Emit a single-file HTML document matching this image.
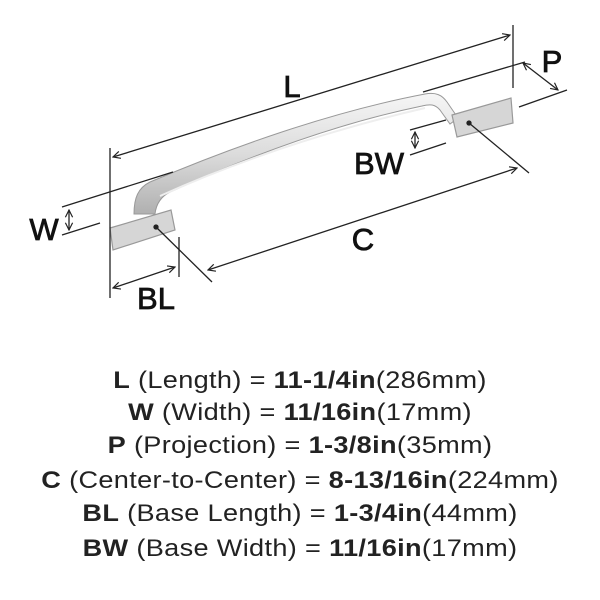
<!DOCTYPE html>
<html><head><style>
body{margin:0;background:#fff;width:600px;height:600px;overflow:hidden;font-family:"Liberation Sans",sans-serif}
.t{position:absolute;left:0;width:600px;text-align:center;font-size:24px;letter-spacing:0.3px;color:#222;white-space:nowrap;transform:scaleX(1.13);transform-origin:300px 0}
.t b{font-weight:bold}
</style></head><body>
<svg width="600" height="330" style="position:absolute;left:0;top:0" xmlns="http://www.w3.org/2000/svg">
<defs>
<marker id="a" viewBox="0 0 10 10" refX="9" refY="5" markerWidth="9" markerHeight="9" orient="auto-start-reverse" markerUnits="userSpaceOnUse">
<polyline points="1,1 9,5 1,9" fill="none" stroke="#222" stroke-width="1.3"/></marker>
<linearGradient id="g" x1="0" y1="0" x2="0" y2="1"><stop offset="0" stop-color="#f6f6f6"/><stop offset="0.5" stop-color="#dcdcdc"/><stop offset="1" stop-color="#b0b0b0"/></linearGradient>
</defs>
<g stroke="#222" stroke-width="1.3" fill="none">
<path d="M134,214 C134,198 138,188 150,182 C230,148 330,112 425,94 C436,92 442,95 447,102 L458,118 L450,124 L440,110 C435,104 430,104 422,106 C335,124 245,158 170,192 C160,197 156,205 155,214 Z" fill="url(#g)" stroke="#999" stroke-width="1"/>
<path d="M160,196 C240,160 330,130 425,108" stroke="#eee" stroke-width="2"/>
<polygon points="452,115 511,98 513,123 457,137" fill="#d6d6d6" stroke="#999" stroke-width="1.2"/>
<polygon points="110,228 171,210 175,230 113,250" fill="#d6d6d6" stroke="#999" stroke-width="1.2"/>
<circle cx="469" cy="123" r="2" fill="#222"/>
<circle cx="156" cy="227" r="2" fill="#222"/>
<line x1="469" y1="123" x2="529" y2="173"/>
<line x1="156" y1="227" x2="212" y2="282"/>
<line x1="113" y1="157" x2="510" y2="35" marker-start="url(#a)" marker-end="url(#a)"/>
<line x1="513" y1="25" x2="513" y2="88"/>
<line x1="110" y1="148" x2="110" y2="298"/>
<line x1="423" y1="92" x2="525" y2="62"/>
<line x1="519" y1="107" x2="567" y2="90"/>
<line x1="523" y1="63" x2="558" y2="90" marker-start="url(#a)" marker-end="url(#a)"/>
<line x1="410" y1="130" x2="446" y2="120"/>
<line x1="410" y1="155" x2="446" y2="143"/>
<line x1="415" y1="132" x2="415" y2="148" marker-start="url(#a)" marker-end="url(#a)"/>
<line x1="208" y1="270" x2="517" y2="168" marker-start="url(#a)" marker-end="url(#a)"/>
<line x1="62" y1="207" x2="173" y2="172"/>
<line x1="62" y1="235" x2="100" y2="223"/>
<line x1="69" y1="210" x2="69" y2="230" marker-start="url(#a)" marker-end="url(#a)"/>
<line x1="179" y1="237" x2="179" y2="277"/>
<line x1="113" y1="288" x2="175" y2="267" marker-start="url(#a)" marker-end="url(#a)"/>
</g>
<g font-family="Liberation Sans,sans-serif" font-size="31" fill="#111" text-anchor="middle" stroke="#111" stroke-width="0.8">
<text x="292" y="97">L</text>
<text x="552" y="72">P</text>
<text x="379" y="174">BW</text>
<text x="363" y="250">C</text>
<text x="44" y="240">W</text>
<text x="156" y="309">BL</text>
</g>
</svg>
<div class="t" style="top:367px"><b>L</b> (Length) = <b>11-1/4in</b>(286mm)</div>
<div class="t" style="top:399px"><b>W</b> (Width) = <b>11/16in</b>(17mm)</div>
<div class="t" style="top:432px"><b>P</b> (Projection) = <b>1-3/8in</b>(35mm)</div>
<div class="t" style="top:467px"><b>C</b> (Center-to-Center) = <b>8-13/16in</b>(224mm)</div>
<div class="t" style="top:500px"><b>BL</b> (Base Length) = <b>1-3/4in</b>(44mm)</div>
<div class="t" style="top:535px"><b>BW</b> (Base Width) = <b>11/16in</b>(17mm)</div>
</body></html>
